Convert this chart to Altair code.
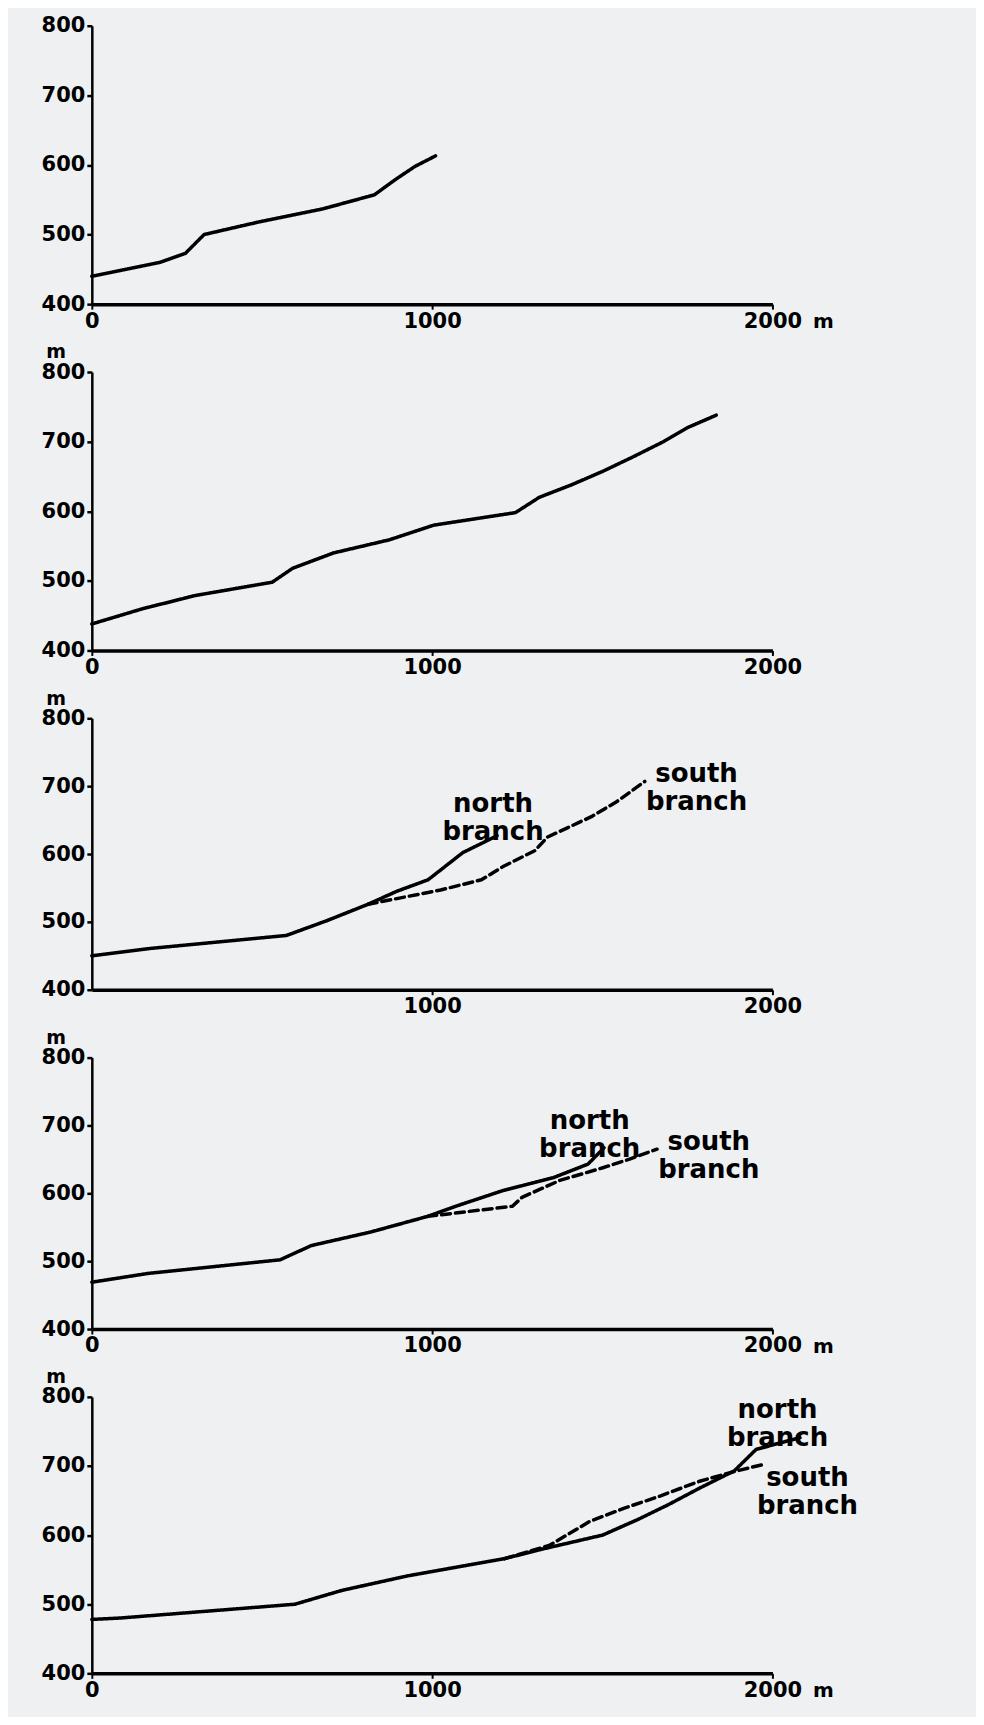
import altair as alt
import pandas as pd

# ---------------- data (distance m, elevation m) ----------------
# Panel 1
p1_x = [0, 200, 275, 330, 490, 680, 830, 895, 950, 1010]
p1_y = [440, 460, 473, 500, 518, 537, 557, 580, 598, 613]
# Panel 2
p2_x = [0, 150, 305, 530, 590, 710, 875, 1005, 1245, 1315, 1410, 1500, 1590, 1680, 1750, 1835]
p2_y = [438, 460, 479, 498, 518, 540, 559, 580, 598, 620, 638, 657, 678, 700, 720, 738]
# Panel 3
p3_main_x = [0, 175, 572, 692, 812]
p3_main_y = [450, 461, 480, 502, 526]
p3_north_x = [812, 896, 988, 1034, 1090, 1191]
p3_north_y = [526, 545, 562, 580, 602, 627]
p3_south_x = [812, 1025, 1145, 1210, 1302, 1339, 1468, 1542, 1625]
p3_south_y = [526, 547, 562, 582, 605, 625, 655, 677, 707]
# Panel 4
p4_main_x = [0, 166, 553, 645, 820, 987]
p4_main_y = [469, 482, 502, 523, 543, 566]
p4_north_x = [987, 1070, 1208, 1356, 1458, 1505]
p4_north_y = [566, 581, 604, 623, 643, 667]
p4_south_x = [987, 1236, 1264, 1375, 1504, 1578, 1661]
p4_south_y = [566, 581, 594, 619, 638, 650, 665]
# Panel 5
p5_main_x = [0, 83, 597, 735, 928, 1213]
p5_main_y = [478, 480, 500, 520, 541, 566]
p5_north_x = [1213, 1326, 1501, 1602, 1694, 1786, 1888, 1952, 2081]
p5_north_y = [566, 580, 600, 622, 644, 668, 693, 724, 741]
p5_south_x = [1213, 1344, 1464, 1565, 1667, 1786, 1888, 1971]
p5_south_y = [566, 585, 620, 639, 656, 678, 692, 702]

# branch labels: (text, x, y)
p3_labels = [("north\nbranch", 1179, 674), ("south\nbranch", 1777, 718)]
p4_labels = [("north\nbranch", 1463, 706), ("south\nbranch", 1813, 676)]
p5_labels = [("north\nbranch", 2015, 781), ("south\nbranch", 2103, 683)]

y_ticks = [400, 500, 600, 700, 800]
FONT = "DejaVu Sans"


def series(name, style, xs, ys):
    return pd.DataFrame({"x": xs, "y": ys, "series": name, "style": style, "order": range(len(xs))})


def panel(parts, height, x_values, labels=None, y_unit=True, x_unit=True):
    df = pd.concat(parts, ignore_index=True)
    xs = alt.Scale(domain=[0, 2000], nice=False, zero=False)
    ys = alt.Scale(domain=[400, 800], nice=False, zero=False)
    xaxis = alt.Axis(values=x_values, format="d", title=None, grid=False, domainColor="black", domainWidth=3.5,
                     tickColor="black", tickWidth=2, tickSize=5, labelFont=FONT, labelFontWeight="bold",
                     labelFontSize=21, labelColor="black", labelPadding=1, labelFlush=False)
    yaxis = alt.Axis(values=y_ticks, format="d", title=None, grid=False, domainColor="black", domainWidth=2.5,
                     tickColor="black", tickWidth=2.5, tickSize=5, labelFont=FONT, labelFontWeight="bold",
                     labelFontSize=21, labelColor="black", labelPadding=2, labelFlush=False)
    lines = alt.Chart(df).mark_line(color="black", strokeWidth=3.5, strokeCap="round", strokeJoin="round").encode(
        x=alt.X("x:Q", scale=xs, axis=xaxis),
        y=alt.Y("y:Q", scale=ys, axis=yaxis),
        detail="series:N",
        order="order:Q",
        strokeDash=alt.StrokeDash("style:N", scale=alt.Scale(domain=["solid", "dashed"], range=[[1, 0], [9, 5]]), legend=None),
    )
    layers = [lines]
    if labels:
        ldf = pd.DataFrame({"t": [l[0] for l in labels], "x": [l[1] for l in labels], "y": [l[2] for l in labels]})
        layers.append(alt.Chart(ldf).mark_text(font=FONT, fontWeight="bold", fontSize=26, color="black",
                                               lineBreak="\n", lineHeight=28, align="center", baseline="middle").encode(
            x=alt.X("x:Q", scale=xs), y=alt.Y("y:Q", scale=ys), text="t:N"))
    if y_unit:
        layers.append(alt.Chart(pd.DataFrame({"t": ["m"], "x": [-105], "y": [829]})).mark_text(
            font=FONT, fontWeight="bold", fontSize=19, color="black", align="center", baseline="middle").encode(
            x=alt.X("x:Q", scale=xs), y=alt.Y("y:Q", scale=ys), text="t:N"))
    if x_unit:
        layers.append(alt.Chart(pd.DataFrame({"t": ["m"], "x": [2150], "y": [400]})).mark_text(
            font=FONT, fontWeight="bold", fontSize=20, color="black", align="center", baseline="middle", dy=18).encode(
            x=alt.X("x:Q", scale=xs), y=alt.Y("y:Q", scale=ys), text="t:N"))
    return alt.layer(*layers).properties(width=682, height=height)


c1 = panel([series("main", "solid", p1_x, p1_y)], 279, [0, 1000, 2000], y_unit=False, x_unit=True)
c2 = panel([series("main", "solid", p2_x, p2_y)], 279, [0, 1000, 2000], x_unit=False)
c3 = panel([series("main", "solid", p3_main_x, p3_main_y),
            series("north", "solid", p3_north_x, p3_north_y),
            series("south", "dashed", p3_south_x, p3_south_y)], 272, [1000, 2000], labels=p3_labels, x_unit=False)
c4 = panel([series("main", "solid", p4_main_x, p4_main_y),
            series("north", "solid", p4_north_x, p4_north_y),
            series("south", "dashed", p4_south_x, p4_south_y)], 272, [0, 1000, 2000], labels=p4_labels)
c5 = panel([series("main", "solid", p5_main_x, p5_main_y),
            series("north", "solid", p5_north_x, p5_north_y),
            series("south", "dashed", p5_south_x, p5_south_y)], 277, [0, 1000, 2000], labels=p5_labels)

chart = alt.vconcat(c1, c2, c3, c4, c5, spacing=68, bounds="flush").properties(
    padding={"left": 33, "top": 5, "right": 118, "bottom": 14}
).configure(background="#eef0f2").configure_view(strokeWidth=0)

chart.save("out.html", embed_options={"renderer": "svg", "actions": False})
